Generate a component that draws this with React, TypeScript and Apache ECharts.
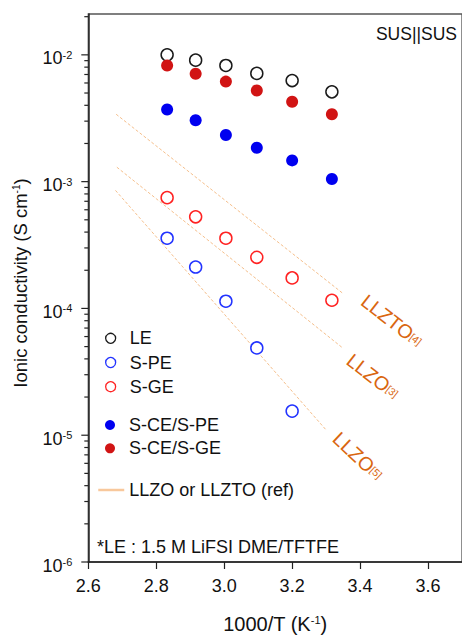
import React, { useEffect, useRef } from 'react';
import * as echarts from 'echarts';

// ---- data ----
const invT = [2.832, 2.916, 3.005, 3.096, 3.2, 3.317];
const LE = [1.0e-2, 9.08e-3, 8.25e-3, 7.14e-3, 6.27e-3, 5.11e-3];
const S_PE = [3.58e-4, 2.12e-4, 1.14e-4, 4.88e-5, 1.55e-5];
const S_GE = [7.48e-4, 5.28e-4, 3.58e-4, 2.53e-4, 1.74e-4, 1.16e-4];
const SCE_SPE = [3.71e-3, 3.05e-3, 2.33e-3, 1.85e-3, 1.47e-3, 1.05e-3];
const SCE_SGE = [8.25e-3, 7.1e-3, 6.15e-3, 5.24e-3, 4.27e-3, 3.4e-3];

const refNames = ['LLZTO', 'LLZO', 'LLZO'];
const refCites = ['[4]', '[3]', '[5]'];
const refX = [[2.682, 3.35], [2.684, 3.35], [2.68, 3.3]];
const refY = [[3.4e-3, 1.31e-4], [1.3e-3, 4.85e-5], [8.53e-4, 1.1e-5]];

const xTickMin = 2.6;
const xTickMax = 3.7;
const yMin = 1e-6;
const yMax = 0.021;
const decades = [-6, -5, -4, -3, -2];
const mantissas = [1, 2, 3, 4, 5, 6, 7, 8, 9];

const FONT = '"Liberation Sans", Arial, Helvetica, sans-serif';
const REF_NAME = 'LLZO or LLZTO (ref)';
const LABEL_OFFSETS = [[49, 27, 38], [30, 28, 38], [32, 26, 43]];

function openCircle(name: string, ys: number[], color: string) {
  return {
    type: 'scatter',
    name,
    data: ys.map((y, i) => [invT[i], y]),
    symbol: 'circle',
    symbolSize: 12,
    itemStyle: { color: '#ffffff', borderColor: color, borderWidth: 1.5, opacity: 1 },
    z: 5,
  };
}
function filledCircle(name: string, ys: number[], color: string) {
  return {
    type: 'scatter',
    name,
    data: ys.map((y, i) => [invT[i], y]),
    symbol: 'circle',
    symbolSize: 12,
    itemStyle: { color, borderWidth: 0, opacity: 1 },
    z: 5,
  };
}

export default function App() {
  const ref = useRef<HTMLDivElement>(null);
  useEffect(() => {
    if (!ref.current) return;
    const chart = echarts.init(ref.current, undefined, { renderer: 'svg' });

    const yTickValues: number[] = [];
    decades.forEach((e) =>
      mantissas.forEach((m) => {
        const v = m * Math.pow(10, e);
        if (v <= yMax * 1.0001) yTickValues.push(v);
      })
    );

    const refSeries = refX.map((xs, k) => ({
      type: 'line',
      name: REF_NAME,
      data: xs.map((x, j) => [x, refY[k][j]]),
      symbol: 'none',
      silent: true,
      itemStyle: { color: '#f5bf8c' },
      lineStyle: { color: '#f5bf8c', width: 1, type: [3, 2] },
      z: 2,
    }));

    const legendText = { fontSize: 18, color: '#111', fontFamily: FONT };

    const option: any = {
      animation: false,
      textStyle: { fontFamily: FONT },
      title: [
        {
          text: 'SUS||SUS',
          right: 5,
          top: 24.5,
          padding: 0,
          textStyle: { fontSize: 17.5, fontWeight: 'normal', color: '#111', fontFamily: FONT },
        },
        {
          text: '*LE : 1.5 M LiFSI DME/TFTFE',
          left: 97,
          top: 537.5,
          padding: 0,
          textStyle: { fontSize: 18, fontWeight: 'normal', color: '#111', fontFamily: FONT },
        },
      ],
      grid: {
        left: 88.3,
        top: 14,
        width: 379,
        height: 552.7,
        show: true,
        borderColor: '#555',
        borderWidth: 1.3,
        backgroundColor: 'transparent',
      },
      legend: [
        {
          data: ['LE', 'S-PE', 'S-GE'],
          orient: 'vertical',
          left: 105,
          top: 329.3,
          padding: 0,
          itemWidth: 28,
          itemHeight: 10,
          itemGap: 6.2,
          selectedMode: false,
          itemStyle: { borderWidth: 1.3 },
          textStyle: legendText,
        },
        {
          data: ['S-CE/S-PE', 'S-CE/S-GE'],
          orient: 'vertical',
          left: 105,
          top: 416,
          padding: 0,
          itemWidth: 28,
          itemHeight: 10,
          itemGap: 5.3,
          selectedMode: false,
          textStyle: legendText,
        },
        {
          data: [REF_NAME],
          orient: 'vertical',
          left: 97,
          top: 481,
          padding: 0,
          itemWidth: 26,
          itemHeight: 10,
          selectedMode: false,
          itemStyle: { color: 'rgba(0,0,0,0)', borderWidth: 0, opacity: 0 },
          lineStyle: { type: 'solid', width: 2.5, color: '#f8c89c' },
          textStyle: legendText,
        },
      ],
      xAxis: {
        type: 'value',
        min: xTickMin,
        max: xTickMax,
        interval: 0.2,
        name: '1000/T (K{s|-1})',
        nameLocation: 'middle',
        nameGap: 52,
        nameTextStyle: {
          fontSize: 20,
          color: '#111',
          fontFamily: FONT,
          rich: { s: { fontSize: 11, verticalAlign: 'top', fontFamily: FONT, color: '#111' } },
        },
        axisLine: { lineStyle: { color: '#222', width: 1.5 } },
        axisTick: { show: true, length: 7, lineStyle: { color: '#222', width: 1.2 } },
        axisLabel: {
          fontSize: 18,
          color: '#111',
          margin: 15,
          showMaxLabel: false,
          formatter: (v: number) => v.toFixed(1),
        },
        splitLine: { show: false },
      },
      yAxis: {
        type: 'log',
        logBase: 10,
        min: yMin,
        max: yMax,
        name: 'Ionic conductivity (S cm{s|-1})',
        nameLocation: 'middle',
        nameGap: 58,
        nameTextStyle: {
          fontSize: 18.5,
          color: '#111',
          fontFamily: FONT,
          padding: [0, 0, 0, 10],
          rich: { s: { fontSize: 10, verticalAlign: 'top', fontFamily: FONT, color: '#111' } },
        },
        axisLine: { show: true, lineStyle: { color: '#222', width: 1.5 } },
        axisTick: { show: false },
        splitLine: { show: false },
        axisLabel: {
          margin: 16,
          padding: [7, 0, 0, 0],
          formatter: (v: number) => {
            const l = Math.log10(v);
            const r = Math.round(l);
            if (Math.abs(l - r) > 1e-6) return '';
            return '{b|10}{s|' + r + '}';
          },
          rich: {
            b: { fontSize: 18, color: '#111', fontFamily: FONT, lineHeight: 18 },
            s: { fontSize: 11, color: '#111', fontFamily: FONT, verticalAlign: 'top', lineHeight: 11 },
          },
        },
      },
      series: [
        ...refSeries,
        openCircle('LE', LE, '#1a1a1a'),
        openCircle('S-PE', S_PE, '#2233ff'),
        openCircle('S-GE', S_GE, '#ff2222'),
        filledCircle('S-CE/S-PE', SCE_SPE, '#0000f0'),
        filledCircle('S-CE/S-GE', SCE_SGE, '#d11414'),
        {
          type: 'custom',
          name: 'yticks',
          silent: true,
          clip: false,
          z: 10,
          data: yTickValues.map((v) => [xTickMin, v]),
          renderItem: (params: any, api: any) => {
            const v = api.value(1);
            const p = api.coord([xTickMin, v]);
            const l = Math.log10(v);
            const major = Math.abs(l - Math.round(l)) < 1e-6;
            const len = major ? 7 : 4;
            return {
              type: 'line',
              shape: { x1: p[0] - len, y1: p[1], x2: p[0], y2: p[1] },
              style: { stroke: '#222', lineWidth: 1.2 },
            };
          },
        },
      ],
    };
    chart.setOption(option);

    const graphics = refX.map((xs, k) => {
      const p = chart.convertToPixel({ gridIndex: 0 }, [xs[1], refY[k][1]]) as number[];
      const [dx, dy, ang] = LABEL_OFFSETS[k];
      return {
        type: 'text',
        x: p[0] + dx,
        y: p[1] + dy,
        rotation: (-ang * Math.PI) / 180,
        style: {
          text: '{m|' + refNames[k] + '}{s|' + refCites[k] + '}',
          align: 'center',
          verticalAlign: 'middle',
          rich: {
            m: { fontSize: 19.5, fill: '#d9660f', fontFamily: FONT },
            s: { fontSize: 10.5, fill: '#d9660f', fontFamily: FONT, verticalAlign: 'middle' },
          },
        },
        z: 20,
      };
    });
    chart.setOption({ graphic: graphics });

    return () => chart.dispose();
  }, []);
  return (
    <div
      ref={ref}
      style={{ position: 'absolute', left: 0, top: 0, width: 462, height: 639 }}
    />
  );
}
